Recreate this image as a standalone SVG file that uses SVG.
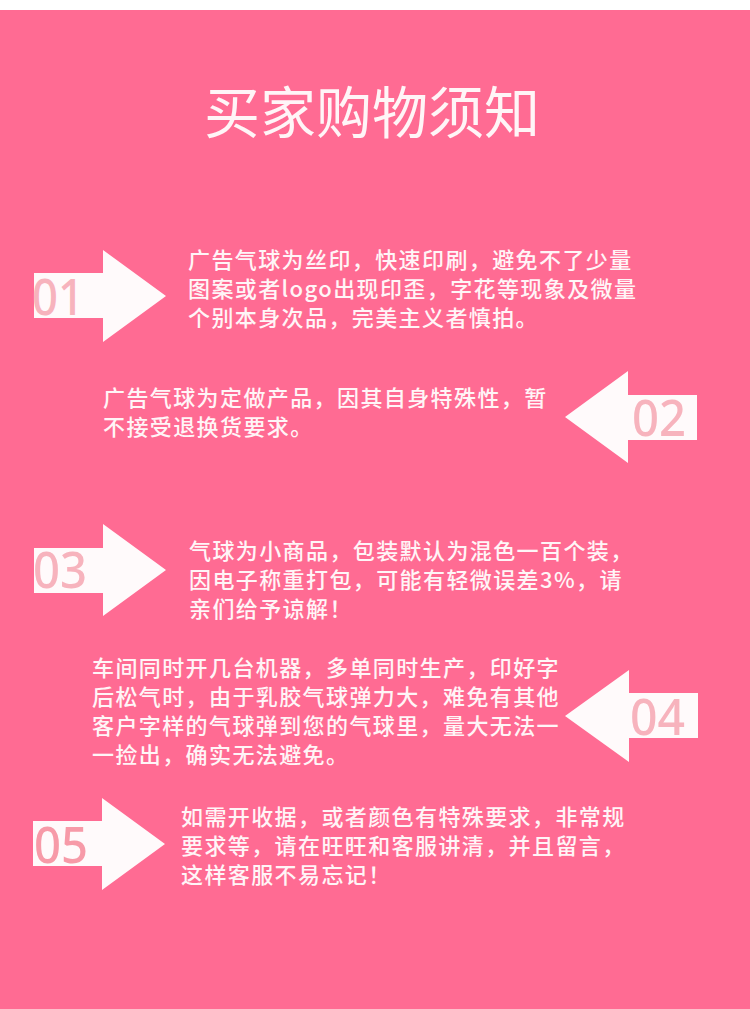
<svg xmlns="http://www.w3.org/2000/svg" width="750" height="1009" viewBox="0 0 750 1009">
<style>
.t{font-family:"Noto Sans CJK SC","Liberation Sans",sans-serif;fill:#fff5f7}
.b{font-size:22px;letter-spacing:1.4px;font-weight:500}
.n{font-family:"Noto Sans","Liberation Sans",sans-serif;font-size:50px;font-weight:500;fill:#f7b3bd}
.a{fill:#fffafb}
</style>
<rect width="750" height="1009" fill="#fff"/>
<rect x="0" y="10" width="750" height="999" fill="#ff6b93"/>
<text class="t" x="204" y="133" font-size="56" font-weight="400">买家购物须知</text>
<g id="node-01">
<polygon class="a" points="34,273 103,273 103,250 166,296 103,342 103,318 34,318"/>
<text class="n" x="32" y="315" textLength="52" lengthAdjust="spacingAndGlyphs">01</text>
<text class="t b" x="188" y="268">广告气球为丝印，快速印刷，避免不了少量</text>
<text class="t b" x="188" y="297">图案或者logo出现印歪，字花等现象及微量</text>
<text class="t b" x="188" y="326">个别本身次品，完美主义者慎拍。</text>
</g>
<g id="node-02">
<polygon class="a" points="697,395 628,395 628,371 565,417 628,463 628,440 697,440"/>
<text class="n" x="632" y="436" textLength="54" lengthAdjust="spacingAndGlyphs">02</text>
<text class="t b" x="103" y="406">广告气球为定做产品，因其自身特殊性，暂</text>
<text class="t b" x="103" y="435">不接受退换货要求。</text>
</g>
<g id="node-03">
<polygon class="a" points="34,548 103,548 103,524 166,570 103,616 103,593 34,593"/>
<text class="n" x="33" y="588" textLength="54" lengthAdjust="spacingAndGlyphs">03</text>
<text class="t b" x="189" y="559">气球为小商品，包装默认为混色一百个装，</text>
<text class="t b" x="189" y="588">因电子称重打包，可能有轻微误差3%，请</text>
<text class="t b" x="189" y="617">亲们给予谅解！</text>
</g>
<g id="node-04">
<polygon class="a" points="698,693 629,693 629,670 565,716 629,762 629,738 698,738"/>
<text class="n" x="630" y="735" textLength="55" lengthAdjust="spacingAndGlyphs">04</text>
<text class="t b" x="92" y="676">车间同时开几台机器，多单同时生产，印好字</text>
<text class="t b" x="92" y="705">后松气时，由于乳胶气球弹力大，难免有其他</text>
<text class="t b" x="92" y="734">客户字样的气球弹到您的气球里，量大无法一</text>
<text class="t b" x="92" y="763">一捡出，确实无法避免。</text>
</g>
<g id="node-05">
<polygon class="a" points="33,821 102,821 102,798 165,844 102,890 102,866 33,866"/>
<text class="n" x="34" y="863" textLength="54" lengthAdjust="spacingAndGlyphs" style="fill:#f79aa8">05</text>
<text class="t b" x="181" y="825">如需开收据，或者颜色有特殊要求，非常规</text>
<text class="t b" x="181" y="854">要求等，请在旺旺和客服讲清，并且留言，</text>
<text class="t b" x="181" y="883">这样客服不易忘记！</text>
</g>
<g id="connectors"/>
</svg>
